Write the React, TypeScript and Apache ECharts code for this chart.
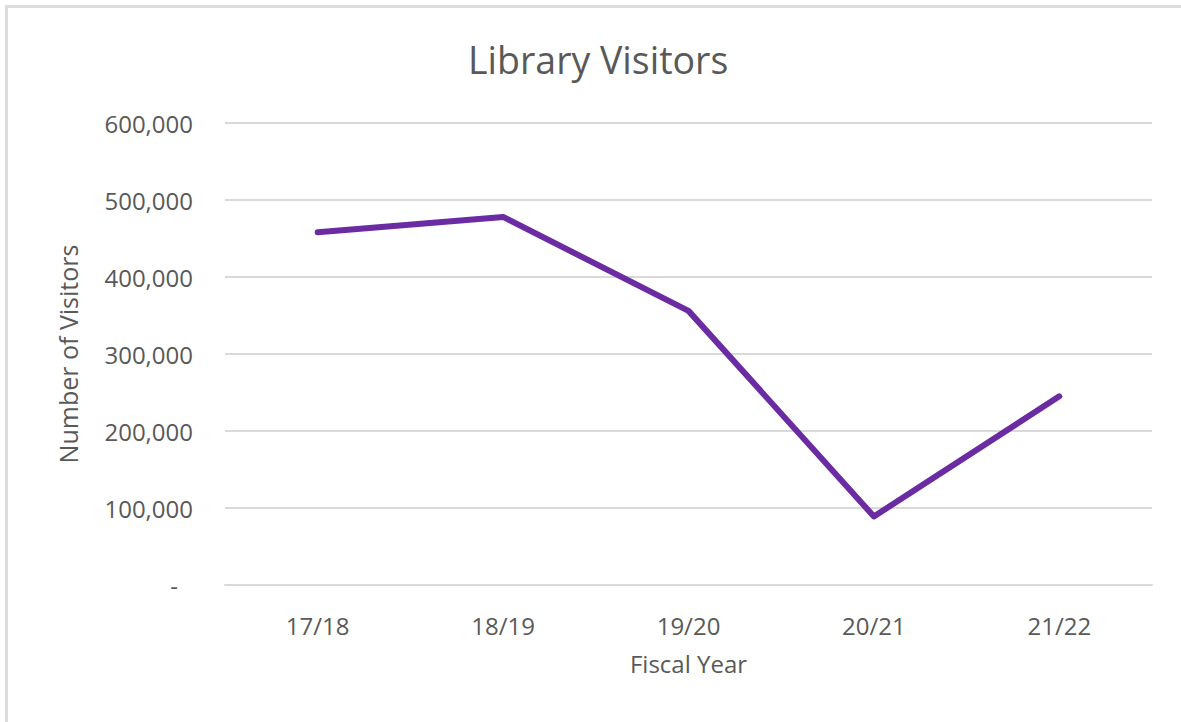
import React, { useEffect, useRef } from "react";
import * as echarts from "echarts";

const categories = ["17/18", "18/19", "19/20", "20/21", "21/22"];
const visitors = [458000, 478000, 356000, 89000, 245000];
const yTicks = [0, 100000, 200000, 300000, 400000, 500000, 600000];

const TEXT = "#595959";
const GRID = "#d9d9d9";
const FONT = "'Open Sans', sans-serif";

export default function App() {
  const ref = useRef<HTMLDivElement>(null);
  useEffect(() => {
    document.body.style.margin = "0";
    const chart = echarts.init(ref.current!, null, { renderer: "svg" });
    chart.setOption({
      animation: false,
      backgroundColor: "#ffffff",
      textStyle: { fontFamily: FONT },
      title: {
        text: "Library Visitors",
        left: 463,
        top: 35,
        textStyle: { color: TEXT, fontSize: 37.5, fontWeight: "normal", fontFamily: FONT },
      },
      graphic: [
        { type: "rect", shape: { x: 5, y: 5, width: 1180, height: 3 }, style: { fill: "#dcdcdc" } },
        { type: "rect", shape: { x: 5, y: 5, width: 3, height: 720 }, style: { fill: "#dcdcdc" } },
      ],
      grid: { left: 225, right: 29, top: 123, bottom: 137 },
      xAxis: {
        type: "category",
        data: categories,
        boundaryGap: true,
        name: "Fiscal Year",
        nameLocation: "middle",
        nameGap: 66,
        nameTextStyle: { color: TEXT, fontSize: 24, fontFamily: FONT },
        axisLine: { show: true, lineStyle: { color: GRID, width: 2 } },
        axisTick: { show: false },
        axisLabel: { color: TEXT, fontSize: 24, margin: 28, fontFamily: FONT },
      },
      yAxis: {
        type: "value",
        min: yTicks[0],
        max: yTicks[yTicks.length - 1],
        interval: yTicks[1] - yTicks[0],
        name: "Number of Visitors",
        nameLocation: "middle",
        nameGap: 145,
        nameRotate: 90,
        nameTextStyle: { color: TEXT, fontSize: 25, fontFamily: FONT },
        axisLine: { show: false },
        axisTick: { show: false },
        splitLine: { lineStyle: { color: GRID, width: 2 } },
        axisLabel: {
          color: TEXT,
          fontSize: 24,
          margin: 32,
          fontFamily: FONT,
          formatter: (v: number) => (v === 0 ? "{d|-}" : v.toLocaleString("en-US")),
          rich: { d: { color: TEXT, fontSize: 24, fontFamily: FONT, padding: [0, 15, 0, 0] } },
        },
      },
      series: [
        {
          type: "line",
          data: visitors,
          symbol: "none",
          lineStyle: { color: "#6b2ca3", width: 6, cap: "round", join: "round" },
        },
      ],
    });
    return () => chart.dispose();
  }, []);
  return <div ref={ref} style={{ width: 1181, height: 722 }} />;
}
